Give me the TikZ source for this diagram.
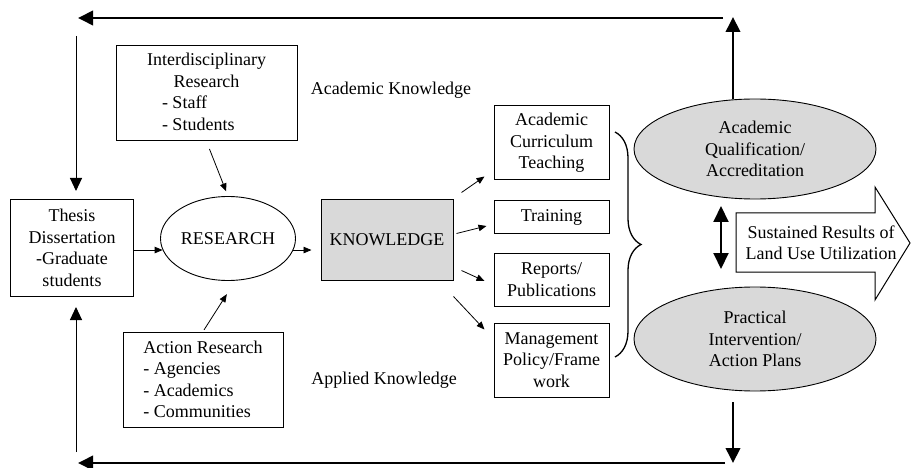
\documentclass[tikz,border=0pt]{standalone}
\usepackage{fontspec}
\setmainfont{Liberation Serif}
\usetikzlibrary{arrows.meta,shapes.geometric,decorations.pathreplacing}

\begin{document}
\begin{tikzpicture}[x=1pt, y=-1pt, line join=miter]
    \tikzset{%
      every node/.style = {font=\fontsize{18}{21.5}\selectfont},
      box/.style        = {draw, line width=1pt, align=center, inner sep=2pt},
      blob/.style       = {ellipse, draw, line width=0.9pt, align=center, inner sep=0pt},
      thin_arrow/.style = {-{Triangle[length=8pt,width=6.5pt]}, line width=0.8pt},
      loop_arrow/.style = {-{Triangle[length=15pt,width=14.5pt]}, line width=2pt},
      side_arrow/.style = {-{Triangle[length=13pt,width=12pt]}, line width=1pt}
    }
    \useasboundingbox (0,0) rectangle (911,468);

    % left part: sources of research
    \node[box, minimum width=123pt, minimum height=97pt] (thesis) at (72,248)
      {Thesis\\Dissertation\\-Graduate\\students};
    \node[blob, minimum width=135pt, minimum height=84pt] (research) at (228,238.5) {RESEARCH};
    \node[box, minimum width=181pt, minimum height=95pt] (interdisc) at (206.5,93.5)
      {\begin{tabular}{@{}l@{}}
         \multicolumn{1}{@{}c@{}}{Interdisciplinary}\\
         \multicolumn{1}{@{}c@{}}{Research}\\
         \hspace{15pt}- Staff\\
         \hspace{15pt}- Students
       \end{tabular}};
    \node[box, align=left, minimum width=160pt, minimum height=95pt] (action) at (203,379.5)
      {Action Research\\- Agencies\\- Academics\\- Communities};
    \node[box, fill=gray!30, minimum width=132pt, minimum height=80pt] (knowledge) at (387,240) {KNOWLEDGE};

    \node (acad_label) at (391,90)  {Academic Knowledge};
    \node (appl_label) at (384,380) {Applied Knowledge};

    % outputs of knowledge
    \node[box, minimum width=115pt, minimum height=74pt] (curriculum) at (551.5,143)
      {Academic\\Curriculum\\Teaching};
    \node[box, minimum width=115pt, minimum height=32pt] (training) at (551.5,217) {Training};
    \node[box, minimum width=115pt, minimum height=53pt] (reports) at (551.5,279.5)
      {Reports/\\Publications};
    \node[box, minimum width=115pt, minimum height=74pt] (management) at (551.5,360)
      {Management\\Policy/Frame\\work};

    % results
    \node[blob, fill=gray!30, minimum width=242pt, minimum height=100pt] (acad) at (755,149)
      {Academic\\Qualification/\\Accreditation};
    \node[blob, fill=gray!30, minimum width=242pt, minimum height=104pt] (practical) at (755,339)
      {Practical\\Intervention/\\Action Plans};

    \draw[line width=1pt, fill=white]
      (736,213) -- (875,213) -- (875,187) -- (910,243) --
      (875,300) -- (875,272) -- (736,272) -- cycle;
    \node[align=center] (results) at (821,243) {Sustained Results of\\Land Use Utilization};

    % inner flow
    \draw[thin_arrow] (thesis.east |- research.190) -- (research.190);
    \draw[thin_arrow, shorten >=9pt] (research.-10) -- (research.-10 -| knowledge.west);
    \draw[thin_arrow, shorten <=8pt, shorten >=5pt] (interdisc.south) -- (research.north);
    \draw[thin_arrow, shorten <=2pt, shorten >=16pt] (action.north) -- (research.-80);

    \draw[thin_arrow] ([shift={(8,-7)}]knowledge.north east) -- ([shift={(-9,-4)}]curriculum.south west);
    \draw[thin_arrow] ([shift={(3,34)}]knowledge.north east)  -- ([shift={(-7,9)}]training.west);
    \draw[thin_arrow] ([shift={(8,-10)}]knowledge.south east) -- ([shift={(-9,1.5)}]reports.west);
    \draw[thin_arrow] ([shift={(0,16)}]knowledge.south east)  -- ([shift={(-9,7)}]management.north west);

    \coordinate (brace_top) at (615,132);
    \coordinate (brace_bot) at (615,357);
    \draw[decorate, decoration={brace, amplitude=26pt}, line width=1.3pt] (brace_top) -- (brace_bot);

    \coordinate (swap_top) at (721,206);
    \coordinate (swap_bot) at (721,269);
    \draw[{Triangle[length=16pt,width=15pt]}-{Triangle[length=16pt,width=15pt]}, line width=2pt]
      (swap_top) -- (swap_bot);

    % feedback loops
    \coordinate (top_right)  at (733,17);
    \coordinate (top_start)  at (723,18);
    \coordinate (top_end)    at (78,18);
    \coordinate (left_top)   at (76,36);
    \coordinate (bot_right)  at (733,463);
    \coordinate (bot_start)  at (725,463);
    \coordinate (bot_end)    at (78,463);
    \coordinate (left_bot)   at (76,452);

    \draw[loop_arrow] ([xshift=-22pt]acad.north) -- (top_right);
    \draw[loop_arrow] (top_start) -- (top_end);
    \draw[side_arrow, shorten >=8pt] (left_top) -- (left_top |- thesis.north);

    \draw[loop_arrow, shorten <=11pt] ([xshift=-22pt]practical.south) -- (bot_right);
    \draw[loop_arrow] (bot_start) -- (bot_end);
    \draw[side_arrow, shorten >=10pt] (left_bot) -- (left_bot |- thesis.south);
\end{tikzpicture}
\end{document}
